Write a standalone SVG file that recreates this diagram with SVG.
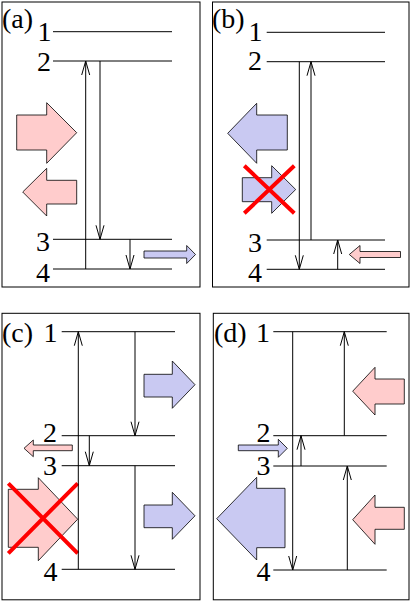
<svg xmlns="http://www.w3.org/2000/svg" width="415" height="601" viewBox="0 0 415 601">
<defs>
<marker id="v" markerUnits="userSpaceOnUse" markerWidth="20" markerHeight="12" refX="0" refY="0" viewBox="-15 -6 16 12" orient="auto" overflow="visible">
<path d="M-14,-4 L0,0 L-14,4" fill="none" stroke="#000" stroke-width="1"/>
</marker>
</defs>
<style>
.frame{fill:#fff;stroke:#000;stroke-width:1}
.lvl{stroke:#000;stroke-width:1}
.tr{stroke:#000;stroke-width:1;marker-end:url(#v)}
.pink{fill:#ffcccc;stroke:#000;stroke-width:0.8}
.blue{fill:#c9c9f2;stroke:#000;stroke-width:0.8}
.x{stroke:#ff0000;stroke-width:4;fill:none}
text{font-family:"Liberation Serif","Times New Roman",serif;font-size:28px;fill:#000}
.n{text-anchor:end}
</style>
<rect width="415" height="601" fill="#fff"/>

<g id="panel-a">
<rect class="frame" x="2" y="2" width="198" height="285"/>
<text x="2" y="28">(a)</text>
<text class="n" x="51.5" y="40.5">1</text>
<text class="n" x="51" y="70.5">2</text>
<text class="n" x="50" y="251">3</text>
<text class="n" x="50" y="282">4</text>
<line class="lvl" x1="53" y1="31.7" x2="172" y2="31.7"/>
<line class="lvl" x1="53" y1="61" x2="172" y2="61"/>
<line class="lvl" x1="53" y1="239.3" x2="172" y2="239.3"/>
<line class="lvl" x1="53" y1="269" x2="172" y2="269"/>
<polygon class="pink" points="16.7,115 46.7,115 46.7,102.7 76.7,132.7 46.7,163.3 46.7,150 16.7,150"/>
<polygon class="pink" points="76.7,180.3 46.7,180.3 46.7,168.3 22.7,192 46.7,216 46.7,204 76.7,204"/>
<polygon class="blue" points="144,251 186.7,251 186.7,245.5 195.5,254.5 186.7,263.5 186.7,258 144,258"/>
</g>

<g id="panel-b">
<rect class="frame" x="212.5" y="2" width="196.5" height="285"/>
<text x="212" y="28">(b)</text>
<text class="n" x="262.5" y="41">1</text>
<text class="n" x="262" y="70">2</text>
<text class="n" x="262" y="251.5">3</text>
<text class="n" x="262" y="281.5">4</text>
<line class="lvl" x1="266.7" y1="32.3" x2="385" y2="32.3"/>
<line class="lvl" x1="266.7" y1="61.7" x2="385" y2="61.7"/>
<line class="lvl" x1="266.7" y1="240" x2="385" y2="240"/>
<line class="lvl" x1="266.7" y1="269.3" x2="385" y2="269.3"/>
<polygon class="blue" points="287.3,115 256.7,115 256.7,103.3 227.7,133.3 256.7,163.3 256.7,150 287.3,150"/>
<polygon class="blue" points="242.3,177.7 271.7,177.7 271.7,165.7 295.7,189.5 271.7,213.3 271.7,201.7 242.3,201.7"/>
<polygon class="pink" points="400.5,251.5 360,251.5 360,245.5 349.3,254.5 360,263.5 360,257.5 400.5,257.5"/>
<path class="x" d="M244.3,165.7 L294.3,213.3 M294.3,165.7 L244.3,213.3"/>
</g>

<g id="panel-c">
<rect class="frame" x="2" y="313.3" width="198" height="286.5"/>
<text x="2" y="341.7">(c)</text>
<text class="n" x="57.5" y="341.7">1</text>
<text class="n" x="57" y="441.7">2</text>
<text class="n" x="57" y="475">3</text>
<text class="n" x="57.5" y="581">4</text>
<line class="lvl" x1="61.7" y1="331.7" x2="175" y2="331.7"/>
<line class="lvl" x1="61.7" y1="435.7" x2="175" y2="435.7"/>
<line class="lvl" x1="61.7" y1="465.7" x2="175" y2="465.7"/>
<line class="lvl" x1="61.7" y1="569.3" x2="175" y2="569.3"/>
<polygon class="blue" points="144,374.3 172.3,374.3 172.3,361 195,384.7 172.3,408.3 172.3,397 144,397"/>
<polygon class="blue" points="144,505 172.3,505 172.3,492.3 195,515.8 172.3,539.3 172.3,527.7 144,527.7"/>
<polygon class="pink" points="72.3,445 33.3,445 33.3,440 24,448.3 33.3,456.7 33.3,450.7 72.3,450.7"/>
<polygon class="pink" points="8.3,489.3 38.3,489.3 38.3,477.7 77.7,519.2 38.3,560.7 38.3,547.3 8.3,547.3"/>
<path class="x" d="M8.3,483.3 L77.7,553.3 M77.7,483.3 L8.3,553.3"/>
</g>

<g id="panel-d">
<rect class="frame" x="213.3" y="313.3" width="195.7" height="286.5"/>
<text x="214" y="341.7">(d)</text>
<text class="n" x="270" y="341.7">1</text>
<text class="n" x="270.5" y="441.7">2</text>
<text class="n" x="270.5" y="475">3</text>
<text class="n" x="270.5" y="581">4</text>
<line class="lvl" x1="273.3" y1="331.7" x2="386.7" y2="331.7"/>
<line class="lvl" x1="273.3" y1="435.7" x2="386.7" y2="435.7"/>
<line class="lvl" x1="273.3" y1="466" x2="386.7" y2="466"/>
<line class="lvl" x1="273.3" y1="570" x2="386.7" y2="570"/>
<polygon class="pink" points="404.3,379 375,379 375,367.3 352.7,391.2 375,415 375,404 404.3,404"/>
<polygon class="pink" points="404.3,507.3 375,507.3 375,495 352.7,519.7 375,544.3 375,529.3 404.3,529.3"/>
<polygon class="blue" points="238.3,445 278.3,445 278.3,439.3 287.3,448.3 278.3,457.3 278.3,450.7 238.3,450.7"/>
<polygon class="blue" points="285,488.3 256.7,488.3 256.7,477.3 216.7,518.7 256.7,560 256.7,547.7 285,547.7"/>
</g>

<g id="connectors">
<line class="tr" x1="85.7" y1="269" x2="85.7" y2="61"/>
<line class="tr" x1="100" y1="61" x2="100" y2="239.3"/>
<line class="tr" x1="130" y1="239.3" x2="130" y2="269"/>

<line class="tr" x1="299.3" y1="61.7" x2="299.3" y2="269.3"/>
<line class="tr" x1="311" y1="240" x2="311" y2="61.7"/>
<line class="tr" x1="337.7" y1="269.3" x2="337.7" y2="240"/>

<line class="tr" x1="78.3" y1="569.3" x2="78.3" y2="331.7"/>
<line class="tr" x1="135" y1="331.7" x2="135" y2="435.7"/>
<line class="tr" x1="89.3" y1="435.7" x2="89.3" y2="465.7"/>
<line class="tr" x1="135" y1="465.7" x2="135" y2="569.3"/>

<line class="tr" x1="292.7" y1="331.7" x2="292.7" y2="570"/>
<line class="tr" x1="344.3" y1="435.7" x2="344.3" y2="331.7"/>
<line class="tr" x1="301" y1="466" x2="301" y2="435.7"/>
<line class="tr" x1="347.3" y1="570" x2="347.3" y2="466"/>
</g>
</svg>
